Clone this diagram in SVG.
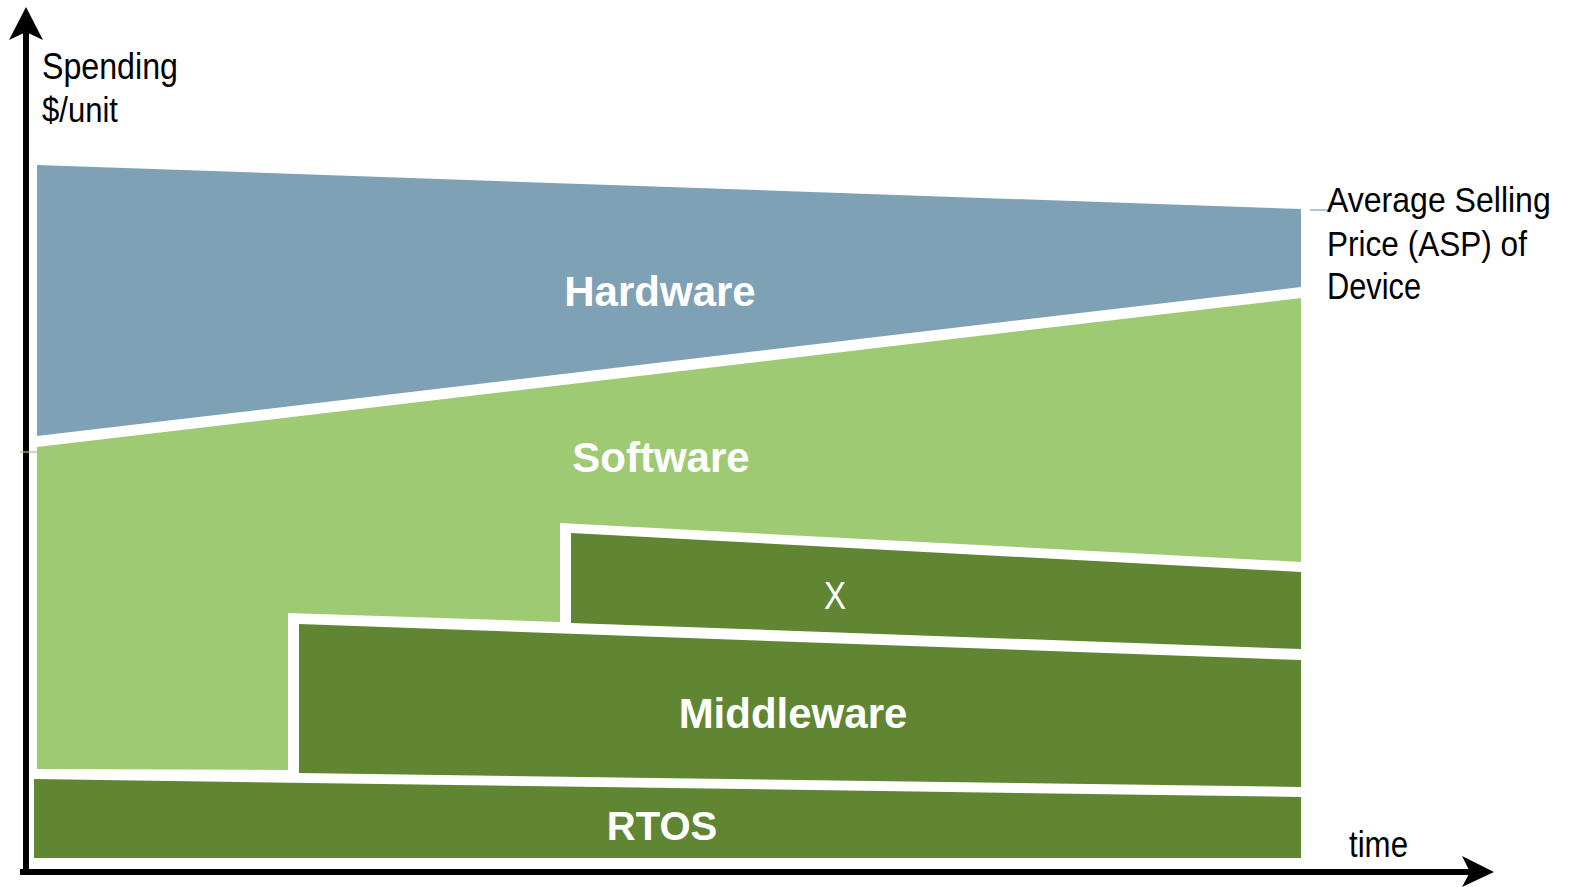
<svg xmlns="http://www.w3.org/2000/svg" width="1572" height="887" viewBox="0 0 1572 887">
  <style>
    .hw { fill: #7fa1b6; }
    .sw { fill: #9fca74; }
    .dk { fill: #608634; }
    .lbl { font-family: "Liberation Sans", Arial, sans-serif; font-weight: bold; font-size: 42px; fill: #ffffff; text-anchor: middle; }
    .nar { font-family: "Liberation Sans", Arial, sans-serif; font-size: 36px; fill: #000000; }
    .axis { stroke: #000000; stroke-width: 6; fill: none; }
  </style>
  <rect width="1572" height="887" fill="#ffffff"/>

  <g id="hardware">
    <polygon class="hw" points="37,165 1301,209 1301,287 37,436"/>
    <text class="lbl" x="660" y="306">Hardware</text>
  </g>

  <g id="software">
    <polygon class="sw" points="37,447 1301,298 1301,562 560,523 560,622 288,613 288,770 37,769"/>
    <text class="lbl" x="661" y="472">Software</text>
  </g>

  <g id="x-block">
    <polygon class="dk" points="571,533 1301,572 1301,649 571,623"/>
    <text class="nar" transform="translate(835,609) scale(0.87,1)" text-anchor="middle" style="fill:#ffffff;font-size:38px">X</text>
  </g>

  <g id="middleware">
    <polygon class="dk" points="299,624 1301,660 1301,787 299,773"/>
    <text class="lbl" x="793" y="728">Middleware</text>
  </g>

  <g id="rtos">
    <polygon class="dk" points="34,779 1301,797 1301,858 34,858"/>
    <text class="lbl" x="662" y="840" style="font-size:40px">RTOS</text>
  </g>

  <g id="connectors">
    <line class="axis" x1="26" y1="875" x2="26" y2="30"/>
    <polygon points="26,7 9,40 26,32 43,40" fill="#000000"/>
    <line class="axis" x1="20" y1="872" x2="1472" y2="872"/>
    <polygon points="1494,872 1462,856 1470,872 1462,887" fill="#000000"/>
    <line x1="1310" y1="210" x2="1330" y2="210" stroke="#7fa1b6" stroke-width="1.2"/>
    <line x1="20" y1="452" x2="37" y2="452" stroke="#9fca74" stroke-width="1.2"/>
  </g>

  <g id="labels">
    <text class="nar" transform="translate(42,79) scale(0.894,1)">Spending</text>
    <text class="nar" transform="translate(42,122) scale(0.863,1)">$/unit</text>
    <text class="nar" transform="translate(1327,212) scale(0.89,1)">Average Selling</text>
    <text class="nar" transform="translate(1327,256) scale(0.877,1)">Price (ASP) of</text>
    <text class="nar" transform="translate(1327,299) scale(0.855,1)">Device</text>
    <text class="nar" transform="translate(1349,857) scale(0.868,1)">time</text>
  </g>
</svg>
